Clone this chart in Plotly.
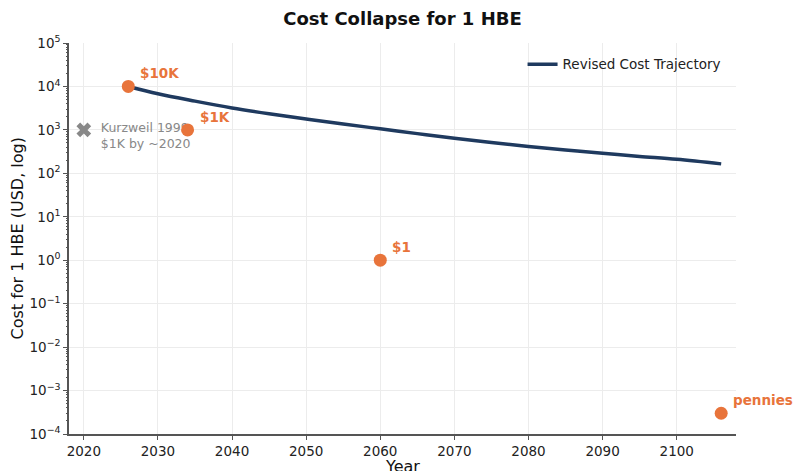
import plotly.graph_objects as go
import math

# Revised cost trajectory (USD per HBE)
traj_years = [2026, 2030, 2035, 2040, 2045, 2050, 2055, 2060, 2065, 2070,
              2075, 2080, 2085, 2090, 2095, 2100, 2106]
traj_cost = [10000, 6800, 4600, 3200, 2350, 1780, 1360, 1060, 820, 640,
             510, 415, 345, 290, 245, 210, 165]

# Milestone points
mile_years = [2026, 2034, 2060, 2106]
mile_cost = [10000, 1000, 1, 0.0003]
mile_labels = ["$10K", "$1K", "$1", "pennies"]

# Kurzweil 1999 prediction
kurz_year = [2020]
kurz_cost = [1000]
kurz_label = "Kurzweil 1999<br>$1K by ~2020"

# Axis ticks
x_ticks = [2020, 2030, 2040, 2050, 2060, 2070, 2080, 2090, 2100]
y_exps = [-4, -3, -2, -1, 0, 1, 2, 3, 4, 5]

NAVY = "#1f3a5f"
ORANGE = "#e8743b"
GRAY = "#888888"
SPINE = "#555555"
FONT = "DejaVu Sans"

fig = go.Figure()

# Kurzweil marker and its caption (caption sits under the milestone dots)
fig.add_trace(go.Scatter(
    x=kurz_year, y=kurz_cost, mode="markers",
    marker=dict(symbol="x", size=13, color=GRAY),
    showlegend=False, hoverinfo="skip",
))
fig.add_trace(go.Scatter(
    x=[kurz_year[0] + 2.3], y=[kurz_cost[0] * 0.7], mode="text",
    text=[kurz_label], textposition="middle right",
    textfont=dict(family=FONT, size=12.5, color=GRAY),
    showlegend=False, hoverinfo="skip",
))

fig.add_trace(go.Scatter(
    x=traj_years, y=traj_cost, mode="lines",
    line=dict(color=NAVY, width=3.5, shape="spline"),
    name="Revised Cost Trajectory",
))

fig.add_trace(go.Scatter(
    x=mile_years, y=mile_cost, mode="markers",
    marker=dict(color=ORANGE, size=13),
    showlegend=False,
))

for yr, c, lab in zip(mile_years, mile_cost, mile_labels):
    fig.add_annotation(
        x=yr, y=math.log10(c), text=f"<b>{lab}</b>", showarrow=False,
        xanchor="left", yanchor="middle", xshift=10, yshift=13,
        font=dict(family=FONT, size=13.5, color=ORANGE),
    )

# Axis titles
fig.add_annotation(
    text="Year", xref="paper", yref="paper", x=0.5, y=-32 / 391,
    xanchor="center", yanchor="middle", showarrow=False,
    font=dict(family=FONT, size=16, color="#111111"),
)
fig.add_annotation(
    text="Cost for 1 HBE (USD, log)", xref="paper", yref="paper",
    x=-52 / 667, y=0.5, textangle=-90, xanchor="center", yanchor="middle",
    showarrow=False, font=dict(family=FONT, size=16, color="#111111"),
)

axis_common = dict(
    showline=True, linecolor=SPINE, linewidth=1.5,
    ticks="outside", ticklen=4, tickcolor=SPINE,
    showgrid=True, gridcolor="#ececec", gridwidth=1,
    zeroline=False, mirror=False, automargin=False,
    tickfont=dict(family=FONT, size=13.5, color="#222222"),
)

fig.update_xaxes(range=[2018, 2108], tickvals=x_ticks, **axis_common)
fig.update_yaxes(
    type="log", range=[-4, 5],
    tickvals=[10 ** e for e in y_exps],
    ticktext=[f"10<sup>{e}</sup>".replace("-", "\u2212") for e in y_exps],
    **axis_common,
)

# Minor log ticks drawn by an overlaid, label-free axis
fig.update_layout(yaxis2=dict(
    type="log", range=[-4, 5], overlaying="y", side="left", anchor="x",
    dtick="D1", ticks="outside", ticklen=2.5, tickcolor=SPINE, tickwidth=1,
    showticklabels=False, showgrid=False, showline=False, zeroline=False,
    automargin=False,
))
fig.add_trace(go.Scatter(x=[None], y=[None], yaxis="y2", showlegend=False,
                         hoverinfo="skip"))

fig.update_layout(
    width=793, height=471,
    margin=dict(l=69, r=57, t=43, b=37),
    plot_bgcolor="white", paper_bgcolor="white",
    title=dict(text="<b>Cost Collapse for 1 HBE</b>", x=0.5, xref="paper",
               y=1 - 19 / 471, yref="container", yanchor="middle",
               font=dict(family=FONT, size=18, color="#111111")),
    legend=dict(x=0.68, y=0.985, xanchor="left", yanchor="top",
                bgcolor="rgba(0,0,0,0)",
                font=dict(family=FONT, size=13.5, color="#222222")),
    font=dict(family=FONT),
)

fig.write_html("out.html")
